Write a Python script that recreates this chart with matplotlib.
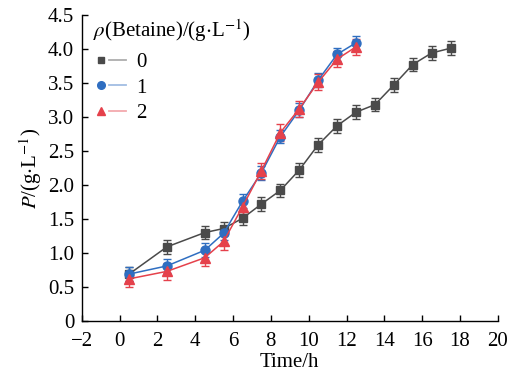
import matplotlib.pyplot as plt
from matplotlib.lines import Line2D
from matplotlib.legend_handler import HandlerTuple
from matplotlib.ticker import FuncFormatter

plt.rcParams['font.family'] = ['Liberation Serif', 'DejaVu Serif']
plt.rcParams['mathtext.fontset'] = 'stix'

# time points (h)
t0 = [0.5, 2.5, 4.5, 5.5, 6.5, 7.5, 8.5, 9.5, 10.5, 11.5, 12.5, 13.5, 14.5, 15.5, 16.5, 17.5]
t12 = [0.5, 2.5, 4.5, 5.5, 6.5, 7.5, 8.5, 9.5, 10.5, 11.5, 12.5]

# product concentration P (g/L) for betaine 0, 1, 2 g/L
p0 = [0.69, 1.09, 1.30, 1.36, 1.51, 1.72, 1.92, 2.22, 2.59, 2.87, 3.07, 3.18, 3.47, 3.77, 3.94, 4.01]
p1 = [0.69, 0.81, 1.04, 1.29, 1.76, 2.18, 2.71, 3.10, 3.54, 3.92, 4.09]
p2 = [0.62, 0.73, 0.93, 1.17, 1.68, 2.21, 2.77, 3.12, 3.51, 3.85, 4.03]

err0 = [0.1] * len(t0)
err1 = [0.1] * len(t12)
err2 = [0.12] * len(t12)

labels = ['0', '1', '2']
colors = ['#4a4a4a', '#2f6ec1', '#e5414b']
fs = 15

fig = plt.figure(figsize=(5.08, 3.72), dpi=100)
ax = fig.add_axes([0.161, 0.137, 0.819, 0.823])

series = [(t0, p0, err0, 's', 6), (t12, p1, err1, 'o', 6.5), (t12, p2, err2, '^', 7)]
handles = []
for (t, p, e, m, ms), c in zip(series, colors):
    ax.errorbar(t, p, yerr=e, color=c, marker=m, markersize=ms, lw=1.1,
                elinewidth=1.0, capsize=3, capthick=1.0)
    mk = Line2D([], [], color=c, marker=m, markersize=ms - 1, ls='none')
    ln = Line2D([], [], color=c, lw=1.3, alpha=0.45)
    handles.append((mk, ln))

ax.set_xlim(-2, 20)
ax.set_ylim(0, 4.5)
ax.set_xticks(range(-2, 21, 2))
ax.set_yticks([0, 0.5, 1.0, 1.5, 2.0, 2.5, 3.0, 3.5, 4.0, 4.5])
ax.yaxis.set_major_formatter(FuncFormatter(lambda v, _: '0' if v == 0 else f'{v:.1f}'))
ax.xaxis.set_major_formatter(FuncFormatter(lambda v, _: f'{int(v)}'.replace('-', '\u2212')))
ax.tick_params(direction='in', length=4, width=1, labelsize=fs)
ax.tick_params(axis='x', pad=8)
ax.tick_params(axis='y', pad=5.5)
for s in ['top', 'right']:
    ax.spines[s].set_visible(False)
for s in ['left', 'bottom']:
    ax.spines[s].set_linewidth(1.0)

ax.set_xlabel('Time/h', fontsize=fs, labelpad=1)
ax.set_ylabel(r'$P$/(g$\cdot$L$^{-1}$)', fontsize=fs, labelpad=3)

ax.text(0.026, 0.95, r'$\rho$(Betaine)/(g$\cdot$L$^{-1}$)', transform=ax.transAxes,
        fontsize=fs, ha='left', va='center')
ax.legend(handles, labels, handler_map={tuple: HandlerTuple(ndivide=None, pad=0.0)},
          loc='upper left', bbox_to_anchor=(0.0, 0.912), frameon=False, fontsize=fs,
          handlelength=1.6, handletextpad=0.5, labelspacing=0.3, borderaxespad=0.1)

fig.savefig('out.png', dpi=100)
